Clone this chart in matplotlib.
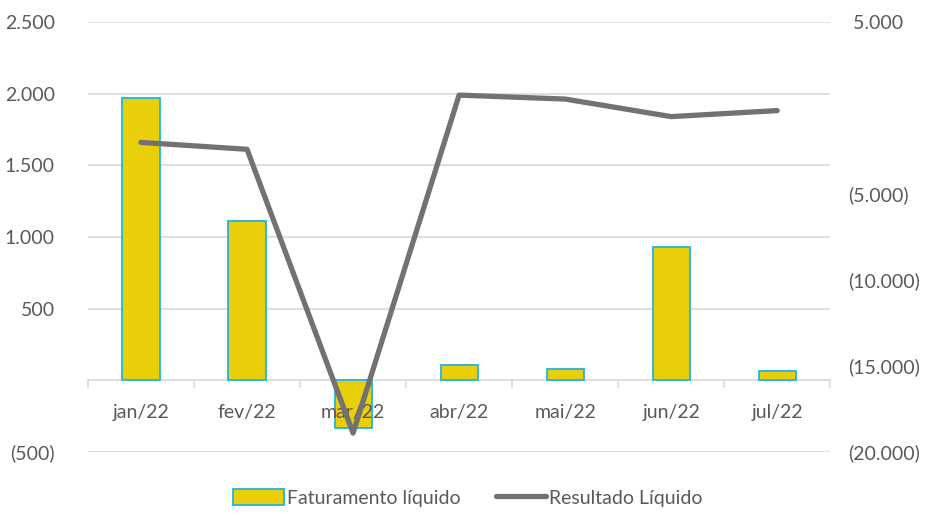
import matplotlib.pyplot as plt
from matplotlib.ticker import FixedLocator, FuncFormatter

plt.rcParams['font.family'] = ['Lato', 'DejaVu Sans']

meses = ['jan/22', 'fev/22', 'mar/22', 'abr/22', 'mai/22', 'jun/22', 'jul/22']
faturamento = [1970, 1110, -335, 105, 78, 930, 65]
resultado = [-2000, -2400, -18900, 750, 520, -500, -150]

cor_barra = '#E8CF0A'
cor_borda = '#1FB4E6'
cor_linha = '#757171'
cor_texto = '#595959'
cor_grade = '#D9D9D9'


def fmt_br(v):
    s = f'{abs(v):,.0f}'.replace(',', '.')
    if v < 0:
        return f'({s})'
    if v == 0:
        return ''
    return s


fig = plt.figure(figsize=(9.36, 5.18), dpi=100)
ax = fig.add_axes([0.094, 0.1274, 0.793, 0.8301])
x = list(range(len(meses)))

ax.bar(x, faturamento, width=0.35, color=cor_barra, edgecolor=cor_borda,
       linewidth=1.3, zorder=2, label='Faturamento líquido')
ax.set_xlim(-0.5, len(meses) - 0.5)
ax.set_ylim(-500, 2500)
ax.set_yticks(range(-500, 2501, 500))
ax.yaxis.set_major_formatter(FuncFormatter(lambda v, p: fmt_br(v)))
for v in range(-500, 2501, 500):
    if v != 0:
        ax.axhline(v, color=cor_grade, linewidth=1.2, zorder=0)
ax.set_axisbelow(False)

for s in ['top', 'right', 'left']:
    ax.spines[s].set_visible(False)
ax.spines['bottom'].set_position(('data', 0))
ax.spines['bottom'].set_color(cor_grade)
ax.spines['bottom'].set_linewidth(1.2)
ax.spines['bottom'].set_zorder(0.5)

ax.set_xticks(x)
ax.set_xticklabels(meses)
ax.xaxis.set_minor_locator(FixedLocator([i - 0.5 for i in range(len(meses) + 1)]))
ax.tick_params(axis='x', which='major', length=0, pad=17, labelsize=14, labelcolor=cor_texto)
ax.tick_params(axis='x', which='minor', length=6, color=cor_grade, width=1.2)
ax.tick_params(axis='y', length=0, pad=24, labelsize=14, labelcolor=cor_texto)

ax2 = ax.twinx()
ax2.plot(x, resultado, color=cor_linha, linewidth=3.8, solid_capstyle='round',
         zorder=3, label='Resultado Líquido')
ax2.set_ylim(-20000, 5000)
ax2.set_yticks(range(-20000, 5001, 5000))
ax2.yaxis.set_major_formatter(FuncFormatter(lambda v, p: (' ' + fmt_br(v)) if v > 0 else fmt_br(v)))
ax2.tick_params(axis='y', length=0, pad=13, labelsize=14, labelcolor=cor_texto)
for s in ax2.spines.values():
    s.set_visible(False)

h1, l1 = ax.get_legend_handles_labels()
h2, l2 = ax2.get_legend_handles_labels()
fig.legend(h1 + h2, l1 + l2, loc='lower center', bbox_to_anchor=(0.5, -0.012), ncol=2,
           frameon=False, fontsize=14, labelcolor=cor_texto, handlelength=2.6,
           handleheight=0.9, handletextpad=0.15, columnspacing=1.8)

fig.savefig('out.png', dpi=100)
